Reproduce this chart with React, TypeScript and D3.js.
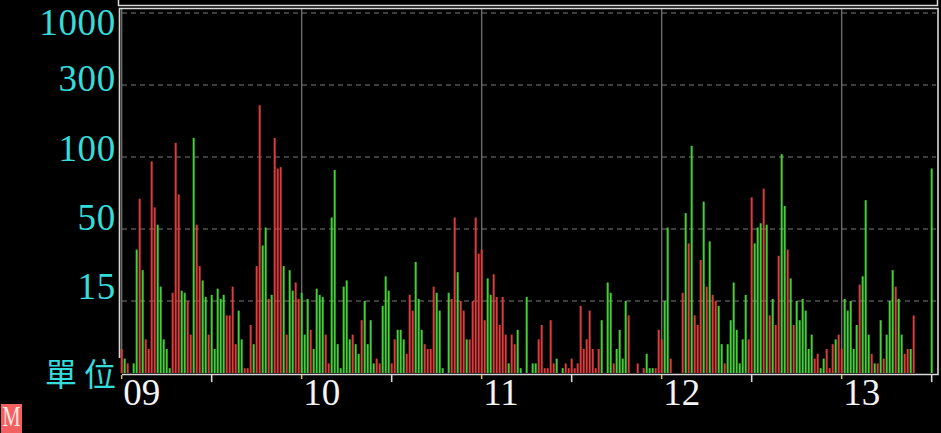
import React from "react";
import * as d3 from "d3";

const volumes = [
  5,3,2,0,2,40,71,30,7,5,97,65,53,22,7,5,1,19,139,74,
  20,19,15,8,153,53,32,25,17,8,18,5,21,16,18,12,12,22,6,13,
  7,1,1,10,6,32,244,42,51,16,18,153,92,93,32,8,30,20,24,16,
  19,8,16,9,5,21,18,17,8,2,58,91,6,1,22,25,7,8,6,4,
  11,15,6,11,2,3,2,14,27,20,2,7,9,9,7,4,18,13,34,16,
  9,6,5,5,22,19,13,1,0,19,16,58,29,15,13,7,7,15,58,38,
  40,11,26,18,28,17,10,17,8,2,8,6,9,1,0,17,0,2,2,7,
  10,1,1,11,2,3,0,1,2,1,3,1,2,14,5,7,13,5,1,5,
  11,0,24,19,2,5,9,3,15,12,0,0,2,0,1,4,1,1,1,9,
  7,15,51,3,0,0,0,19,61,43,131,12,10,35,69,22,44,18,15,14,
  6,2,6,11,24,9,2,7,18,7,72,43,51,54,78,53,12,16,10,37,
  108,66,40,26,10,15,11,16,13,5,8,3,4,1,3,5,1,6,7,8,
  5,16,13,15,5,10,23,27,70,8,4,2,2,11,3,8,15,30,22,16,
  8,4,5,5,12,0,0,0,0,0,92,
];

// positions in `volumes` of the bars drawn red; all the others are green
const redBars = [
  0,2,6,8,9,10,11,17,18,19,22,23,25,26,29,35,36,37,38,41,42,43,45,46,49,51,52,53,55,58,59,63,68,69,
  77,80,85,86,90,91,95,96,97,101,102,103,104,110,111,113,114,116,117,118,119,120,121,124,125,126,127,128,130,131,139,
  140,141,142,143,144,148,149,150,151,152,153,154,155,156,157,158,159,164,169,172,174,178,179,180,183,187,189,191,192,193,195,197,198,
  201,209,210,214,216,218,219,222,224,231,232,235,236,237,239,240,246,250,252,254,258,261,262,264,
];

const yTicks = [0, 15, 50, 100, 300, 1000];
const yLabels = ["1000", "300", "100", "50", "15"];
const hourLabels = ["09", "10", "11", "12", "13"];
const halfHourSlots = [0, 30, 60, 90, 120, 150, 180, 210, 240, 270];

const W = 941;
const H = 433;
const CYAN = "#35dcdc";
const RED = "#dc3c3c";
const GREEN = "#44d034";
const FRAME = "#d8d8d8";
const SERIF = "'Liberation Serif', serif";
const yLabelBaselines = [35, 91, 161, 230, 299];

export default function App() {
  const x = d3.scaleLinear().domain([0, 1]).range([121.67, 124.67]);
  const y = d3.scaleLinear().domain(yTicks).range([373, 301, 229, 157, 85, 13]);
  const barWidth = 2;
  const reds = new Set(redBars);
  const gridTicks = yTicks.slice(1);
  const hourSlots = halfHourSlots.filter((_, i) => i % 2 === 0);
  const halfSlots = halfHourSlots.filter((_, i) => i % 2 === 1);

  return (
    <svg
      width={W}
      height={H}
      viewBox={`0 0 ${W} ${H}`}
      style={{ position: "absolute", left: 0, top: 0, display: "block", background: "#000" }}
    >
      <rect x={0} y={0} width={W} height={H} fill="#000" />

      {/* time grid */}
      {hourSlots.map((s) => (
        <line key={s} x1={x(s)} x2={x(s)} y1={8} y2={373} stroke="#6a6a6a" strokeWidth={1.4} />
      ))}

      {/* value grid */}
      {gridTicks.map((t) => (
        <line
          key={t}
          x1={122}
          x2={936}
          y1={y(t)}
          y2={y(t)}
          stroke="#7a7a7a"
          strokeWidth={1}
          strokeDasharray="5 4"
        />
      ))}

      {/* bars */}
      {volumes.map((v, i) =>
        v > 0 ? (
          <rect
            key={i}
            x={x(i) - barWidth / 2}
            y={y(v)}
            width={barWidth}
            height={y(0) - y(v)}
            fill={reds.has(i) ? RED : GREEN}
          />
        ) : null
      )}

      {/* frames */}
      <path d="M118.5 0V5.5H937.5V0" fill="none" stroke={FRAME} strokeWidth={1.5} />
      <path d="M119.5 358V8.5H938V374.5H122" fill="none" stroke={FRAME} strokeWidth={1.6} />

      {/* ticks */}
      {hourSlots.map((s) => (
        <line key={s} x1={x(s)} x2={x(s)} y1={375} y2={379} stroke="#d8c828" strokeWidth={1.5} />
      ))}
      {halfSlots.map((s) => (
        <line key={s} x1={x(s)} x2={x(s)} y1={375} y2={382} stroke={FRAME} strokeWidth={1.6} />
      ))}

      {/* labels */}
      {yLabels.map((l, i) => (
        <text
          key={l}
          x={116}
          y={yLabelBaselines[i]}
          textAnchor="end"
          fontFamily={SERIF}
          fontSize={37}
          letterSpacing={0.7}
          fill={CYAN}
        >
          {l}
        </text>
      ))}
      {hourLabels.map((l, i) => (
        <text
          key={l}
          x={x(hourSlots[i]) + 1.5}
          y={405}
          fontFamily={SERIF}
          fontSize={37}
          fill="#f4f4f4"
        >
          {l}
        </text>
      ))}
      <text x={45} y={386} fontFamily="'Noto Sans CJK TC'" fontSize={32} letterSpacing={7} fill={CYAN}>
        單位
      </text>

      {/* corner mark */}
      <rect x={1} y={404} width={21} height={29} fill="#f46060" />
      <text
        x={2.5}
        y={426}
        fontFamily={SERIF}
        fontSize={30}
        textLength={18}
        lengthAdjust="spacingAndGlyphs"
        fill="#ffe8e0"
      >
        M
      </text>
    </svg>
  );
}
